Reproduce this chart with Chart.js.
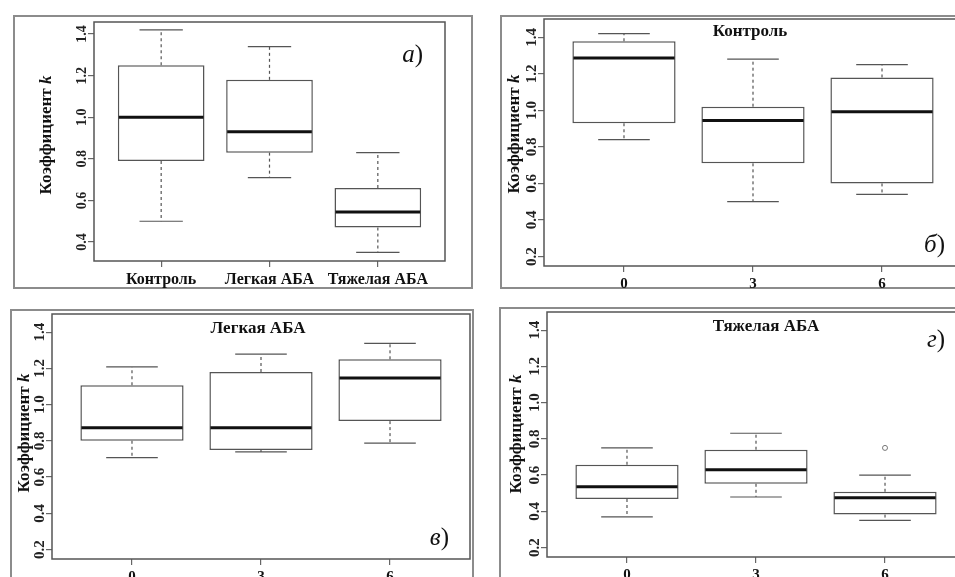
<!DOCTYPE html>
<html>
<head>
<meta charset="utf-8">
<script src="https://cdn.jsdelivr.net/npm/chart.js@4.4.1/dist/chart.umd.min.js"></script>
<style>
    html, body { margin: 0; padding: 0; background: #fff; overflow: hidden; width: 955px; height: 577px; }
    canvas { position: absolute; }
</style>
</head>
<body>
<canvas id="panelA" width="460" height="274" style="left:13px;top:15px"></canvas>
<canvas id="panelB" width="490" height="274" style="left:500px;top:15px"></canvas>
<canvas id="panelC" width="464" height="280" style="left:10px;top:309px"></canvas>
<canvas id="panelD" width="490" height="280" style="left:499px;top:307px"></canvas>
<script>
// --- Datos: a) por grupo ---
const groupLabels = ['Контроль', 'Легкая АБА', 'Тяжелая АБА'];
const groupPos = [1, 2, 3];
const groupMin = [0.50, 0.71, 0.35];
const groupQ1  = [0.79, 0.83, 0.47];
const groupMed = [1.00, 0.93, 0.545];
const groupQ3  = [1.25, 1.18, 0.66];
const groupMax = [1.42, 1.34, 0.83];

// --- Datos: б) в) г) por día ---
const days = [0, 3, 6];
const controlMin = [0.84, 0.50, 0.54];
const controlQ1  = [0.93, 0.71, 0.60];
const controlMed = [1.287, 0.944, 0.993];
const controlQ3  = [1.378, 1.02, 1.18];
const controlMax = [1.42, 1.28, 1.25];

const mildMin = [0.707, 0.739, 0.787];
const mildQ1  = [0.80, 0.75, 0.909];
const mildMed = [0.872, 0.872, 1.147];
const mildQ3  = [1.107, 1.18, 1.25];
const mildMax = [1.208, 1.279, 1.338];

const severeMin = [0.369, 0.479, 0.35];
const severeQ1  = [0.468, 0.552, 0.382];
const severeMed = [0.536, 0.63, 0.475];
const severeQ3  = [0.657, 0.74, 0.508];
const severeMax = [0.75, 0.831, 0.60];
const severeOutX = [6];
const severeOutY = [0.75];

const yTicksGroup = [0.4, 0.6, 0.8, 1.0, 1.2, 1.4];
const yTicksDays = [0.2, 0.4, 0.6, 0.8, 1.0, 1.2, 1.4];

const SERIF = "'Liberation Serif', 'Times New Roman', serif";

function makePanel(id, p) {
    // Plugin: bigotes, medianas, marcos y textos
    const boxExtras = {
        id: 'boxExtras',
        beforeDraw(chart) {
            const ctx = chart.ctx;
            ctx.save();
            ctx.strokeStyle = '#8c8c8c';
            ctx.lineWidth = 2;
            ctx.strokeRect(1, 1, chart.width - 2, chart.height - 2);
            ctx.restore();
        },
        afterDatasetsDraw(chart) {
            const { ctx, chartArea: ca, scales: { x, y } } = chart;
            const bars = chart.getDatasetMeta(0).data;
            const line = (x1, y1, x2, y2) => { ctx.beginPath(); ctx.moveTo(x1, y1); ctx.lineTo(x2, y2); ctx.stroke(); };
            ctx.save();
            p.pos.forEach((v, i) => {
                const cx = x.getPixelForValue(v);
                const w = bars[i].width;
                ctx.strokeStyle = '#555';
                ctx.lineWidth = 1.2;
                ctx.setLineDash([3, 3]);
                line(cx, y.getPixelForValue(p.q3[i]), cx, y.getPixelForValue(p.max[i]));
                line(cx, y.getPixelForValue(p.q1[i]), cx, y.getPixelForValue(p.min[i]));
                ctx.setLineDash([]);
                line(cx - w / 4, y.getPixelForValue(p.max[i]), cx + w / 4, y.getPixelForValue(p.max[i]));
                line(cx - w / 4, y.getPixelForValue(p.min[i]), cx + w / 4, y.getPixelForValue(p.min[i]));
                ctx.strokeStyle = '#111';
                ctx.lineWidth = 3;
                const ym = y.getPixelForValue(p.med[i]);
                line(cx - w / 2 + 1, ym, cx + w / 2 - 1, ym);
            });

            // marco del área del gráfico
            ctx.strokeStyle = '#555';
            ctx.lineWidth = 1.5;
            ctx.strokeRect(ca.left, ca.top, ca.right - ca.left, ca.bottom - ca.top);

            // etiquetas del eje Y (rotadas)
            ctx.fillStyle = '#222';
            ctx.font = 'bold ' + p.yFont + 'px ' + SERIF;
            ctx.textAlign = 'center';
            ctx.textBaseline = 'middle';
            y.ticks.forEach(t => {
                ctx.save();
                ctx.translate(ca.left - 12, y.getPixelForValue(t.value));
                ctx.rotate(-Math.PI / 2);
                ctx.fillText(t.value.toFixed(1), 0, 0);
                ctx.restore();
            });

            // título del eje Y con k en cursiva
            ctx.save();
            ctx.translate(ca.left - p.titleDx, p.titleY);
            ctx.rotate(-Math.PI / 2);
            ctx.fillStyle = '#111';
            const f1 = 'bold 17px ' + SERIF, f2 = 'italic bold 17px ' + SERIF;
            ctx.font = f1;
            const w1 = ctx.measureText('Коэффициент ').width;
            ctx.font = f2;
            const w2 = ctx.measureText('k').width;
            ctx.textAlign = 'left';
            ctx.font = f1;
            ctx.fillText('Коэффициент ', -(w1 + w2) / 2, 0);
            ctx.font = f2;
            ctx.fillText('k', -(w1 + w2) / 2 + w1, 0);
            ctx.restore();

            // título del panel
            if (p.title) {
                ctx.font = 'bold 17px ' + SERIF;
                ctx.fillStyle = '#111';
                ctx.textAlign = 'center';
                ctx.fillText(p.title, p.titleX, p.titleTop);
            }

            // letra del panel
            ctx.fillStyle = '#111';
            ctx.textAlign = 'right';
            ctx.font = '25px ' + SERIF;
            ctx.fillText(')', p.letterX + 12, p.letterY);
            const wp = ctx.measureText(')').width;
            ctx.font = 'italic 25px ' + SERIF;
            ctx.fillText(p.letter, p.letterX + 12 - wp, p.letterY);
            ctx.restore();
        }
    };

    const datasets = [{
        type: 'bar',
        data: p.pos.map((v, i) => ({ x: v, y: [p.q1[i], p.q3[i]] })),
        backgroundColor: '#fff',
        borderColor: '#555',
        borderWidth: 1.5,
        borderSkipped: false,
        barPercentage: 0.8,
        categoryPercentage: 1
    }];
    if (p.outX) {
        datasets.push({
            type: 'scatter',
            data: p.outX.map((v, i) => ({ x: v, y: p.outY[i] })),
            pointRadius: 2.5,
            pointBorderWidth: 1,
            borderColor: '#777',
            backgroundColor: 'rgba(0,0,0,0)'
        });
    }

    return new Chart(document.getElementById(id), {
        type: 'bar',
        data: { datasets },
        plugins: [boxExtras],
        options: {
            responsive: false,
            animation: false,
            devicePixelRatio: 1,
            events: [],
            layout: { padding: p.padding },
            plugins: { legend: { display: false }, tooltip: { enabled: false } },
            scales: {
                x: {
                    type: 'linear',
                    offset: false,
                    min: p.xMin, max: p.xMax,
                    afterBuildTicks: s => { s.ticks = p.pos.map(v => ({ value: v })); },
                    afterFit: s => { s.height = p.xHeight; },
                    grid: { offset: false, drawOnChartArea: false, tickLength: 6, color: '#666', lineWidth: 1.2 },
                    border: { display: false },
                    ticks: {
                        autoSkip: false, maxRotation: 0, padding: 3,
                        color: '#111',
                        font: { family: SERIF, weight: 'bold', size: p.xFont },
                        callback: (v, i) => p.labels ? p.labels[i] : String(v)
                    }
                },
                y: {
                    min: p.yMin, max: p.yMax,
                    afterBuildTicks: s => { s.ticks = p.yTicks.map(v => ({ value: v })); },
                    afterFit: s => { s.width = p.yWidth; },
                    grid: { drawOnChartArea: false, tickLength: 6, color: '#666', lineWidth: 1.2 },
                    border: { display: false },
                    ticks: { display: false }
                }
            }
        }
    });
}

makePanel('panelA', {
    pos: groupPos, labels: groupLabels,
    min: groupMin, q1: groupQ1, med: groupMed, q3: groupQ3, max: groupMax,
    xMin: 0.38, xMax: 3.62, yMin: 0.309, yMax: 1.458, yTicks: yTicksGroup,
    padding: { left: 0, top: 7, right: 28, bottom: 0 }, yWidth: 81, xHeight: 28, xFont: 16, yFont: 14,
    titleDx: 47, titleY: 120, letter: 'а', letterX: 398, letterY: 40
});

makePanel('panelB', {
    pos: days,
    min: controlMin, q1: controlQ1, med: controlMed, q3: controlQ3, max: controlMax,
    xMin: -1.86, xMax: 7.86, yMin: 0.148, yMax: 1.50, yTicks: yTicksDays,
    padding: { left: 0, top: 4, right: 28, bottom: 0 }, yWidth: 44, xHeight: 23, xFont: 15, yFont: 15,
    titleDx: 29, titleY: 119, title: 'Контроль', titleX: 250, titleTop: 17,
    letter: 'б', letterX: 433, letterY: 230
});

makePanel('panelC', {
    pos: days,
    min: mildMin, q1: mildQ1, med: mildMed, q3: mildQ3, max: mildMax,
    xMin: -1.86, xMax: 7.86, yMin: 0.148, yMax: 1.50, yTicks: yTicksDays,
    padding: { left: 0, top: 5, right: 4, bottom: 0 }, yWidth: 42, xHeight: 30, xFont: 15, yFont: 15,
    titleDx: 27, titleY: 124, title: 'Легкая АБА', titleX: 248, titleTop: 20,
    letter: 'в', letterX: 427, letterY: 229
});

makePanel('panelD', {
    pos: days,
    min: severeMin, q1: severeQ1, med: severeMed, q3: severeQ3, max: severeMax,
    outX: severeOutX, outY: severeOutY,
    xMin: -1.86, xMax: 7.86, yMin: 0.148, yMax: 1.50, yTicks: yTicksDays,
    padding: { left: 0, top: 4, right: 24, bottom: 0 }, yWidth: 48, xHeight: 30, xFont: 15, yFont: 15,
    titleDx: 30, titleY: 127, title: 'Тяжелая АБА', titleX: 267, titleTop: 20,
    letter: 'г', letterX: 434, letterY: 33
});
</script>
</body>
</html>
